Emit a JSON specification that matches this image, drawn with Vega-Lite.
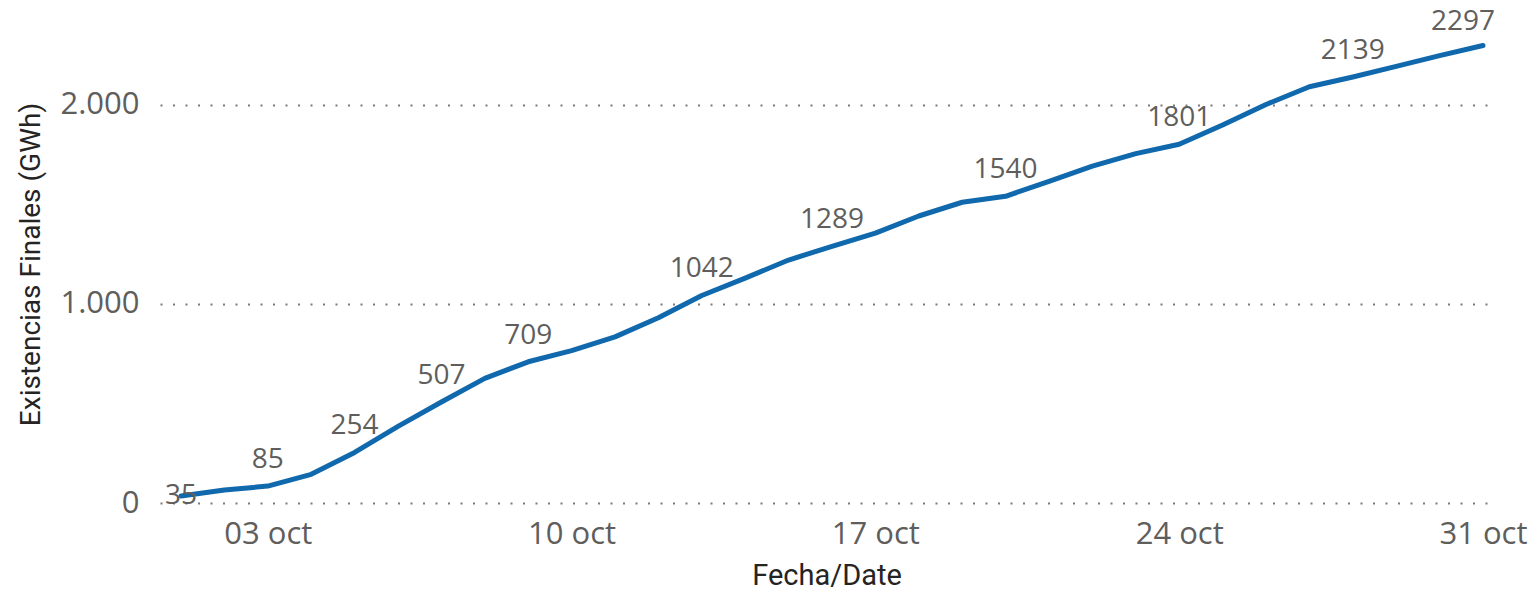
{
  "$schema": "https://vega.github.io/schema/vega-lite/v6.json",
  "width": 1333,
  "height": 478,
  "autosize": "none",
  "padding": {"left": 160, "top": 25, "right": 40, "bottom": 89},
  "background": "white",
  "config": {"view": {"stroke": null}},
  "data": {
    "values": [
      {"date": "2021-10-01T00:00:00", "value": 35},
      {"date": "2021-10-02T00:00:00", "value": 65},
      {"date": "2021-10-03T00:00:00", "value": 85},
      {"date": "2021-10-04T00:00:00", "value": 144},
      {"date": "2021-10-05T00:00:00", "value": 254},
      {"date": "2021-10-06T00:00:00", "value": 385},
      {"date": "2021-10-07T00:00:00", "value": 507},
      {"date": "2021-10-08T00:00:00", "value": 626},
      {"date": "2021-10-09T00:00:00", "value": 709},
      {"date": "2021-10-10T00:00:00", "value": 765},
      {"date": "2021-10-11T00:00:00", "value": 834},
      {"date": "2021-10-12T00:00:00", "value": 930},
      {"date": "2021-10-13T00:00:00", "value": 1042},
      {"date": "2021-10-14T00:00:00", "value": 1129},
      {"date": "2021-10-15T00:00:00", "value": 1220},
      {"date": "2021-10-16T00:00:00", "value": 1289},
      {"date": "2021-10-17T00:00:00", "value": 1355},
      {"date": "2021-10-18T00:00:00", "value": 1441},
      {"date": "2021-10-19T00:00:00", "value": 1510},
      {"date": "2021-10-20T00:00:00", "value": 1540},
      {"date": "2021-10-21T00:00:00", "value": 1615},
      {"date": "2021-10-22T00:00:00", "value": 1691},
      {"date": "2021-10-23T00:00:00", "value": 1754},
      {"date": "2021-10-24T00:00:00", "value": 1801},
      {"date": "2021-10-25T00:00:00", "value": 1898},
      {"date": "2021-10-26T00:00:00", "value": 2001},
      {"date": "2021-10-27T00:00:00", "value": 2090},
      {"date": "2021-10-28T00:00:00", "value": 2139},
      {"date": "2021-10-29T00:00:00", "value": 2192},
      {"date": "2021-10-30T00:00:00", "value": 2246},
      {"date": "2021-10-31T00:00:00", "value": 2297}
    ]
  },
  "encoding": {
    "x": {
      "field": "date",
      "type": "temporal",
      "title": "Fecha/Date",
      "scale": {
        "domain": [
          {"year": 2021, "month": 9, "date": 30, "hours": 12, "minutes": 23},
          {"year": 2021, "month": 10, "date": 31, "hours": 5, "minutes": 32}
        ]
      },
      "axis": {
        "values": [
          {"year": 2021, "month": 10, "date": 3},
          {"year": 2021, "month": 10, "date": 10},
          {"year": 2021, "month": 10, "date": 17},
          {"year": 2021, "month": 10, "date": 24},
          {"year": 2021, "month": 10, "date": 31}
        ],
        "format": "%d oct",
        "grid": false,
        "domain": false,
        "ticks": false,
        "labelFont": "Open Sans",
        "labelFontSize": 31,
        "labelColor": "#605E5C",
        "labelPadding": 16,
        "labelFlush": false,
        "labelOverlap": false,
        "titleFont": "Roboto",
        "titleFontSize": 29,
        "titleFontWeight": "normal",
        "titleColor": "#252423",
        "titlePadding": 12
      }
    },
    "y": {
      "field": "value",
      "type": "quantitative",
      "title": "Existencias Finales (GWh)",
      "scale": {"domain": [0, 2400], "nice": false},
      "axis": {
        "values": [0, 1000, 2000],
        "labelExpr": "replace(format(datum.value, ','), ',', '.')",
        "domain": false,
        "ticks": false,
        "grid": true,
        "gridColor": "#7a7a7a",
        "gridDash": [2, 10.5],
        "gridWidth": 2,
        "labelFont": "Open Sans",
        "labelFontSize": 31,
        "labelColor": "#605E5C",
        "labelPadding": 21,
        "titleFont": "Roboto",
        "titleFontSize": 28,
        "titleFontWeight": "normal",
        "titleColor": "#252423",
        "titlePadding": 14
      }
    }
  },
  "layer": [
    {
      "mark": {"type": "line", "color": "#1068AD", "strokeWidth": 5, "strokeCap": "round", "strokeJoin": "round"}
    },
    {
      "transform": [{"filter": "indexof([3,5,7,9,13,16,20,24,28], date(datum.date)) >= 0 && month(datum.date) == 9"}],
      "mark": {"type": "text", "dy": -26, "font": "Open Sans", "fontSize": 28, "color": "#605E5C"},
      "encoding": {"text": {"field": "value", "type": "quantitative", "format": "d"}}
    },
    {
      "transform": [{"filter": "date(datum.date) == 1 && month(datum.date) == 9"}],
      "mark": {"type": "text", "dy": 0, "font": "Open Sans", "fontSize": 28, "color": "#605E5C"},
      "encoding": {"text": {"field": "value", "type": "quantitative", "format": "d"}}
    },
    {
      "transform": [{"filter": "date(datum.date) == 31 && month(datum.date) == 9"}],
      "mark": {"type": "text", "dy": -24, "dx": 12, "align": "right", "font": "Open Sans", "fontSize": 28, "color": "#605E5C"},
      "encoding": {"text": {"field": "value", "type": "quantitative", "format": "d"}}
    }
  ]
}
